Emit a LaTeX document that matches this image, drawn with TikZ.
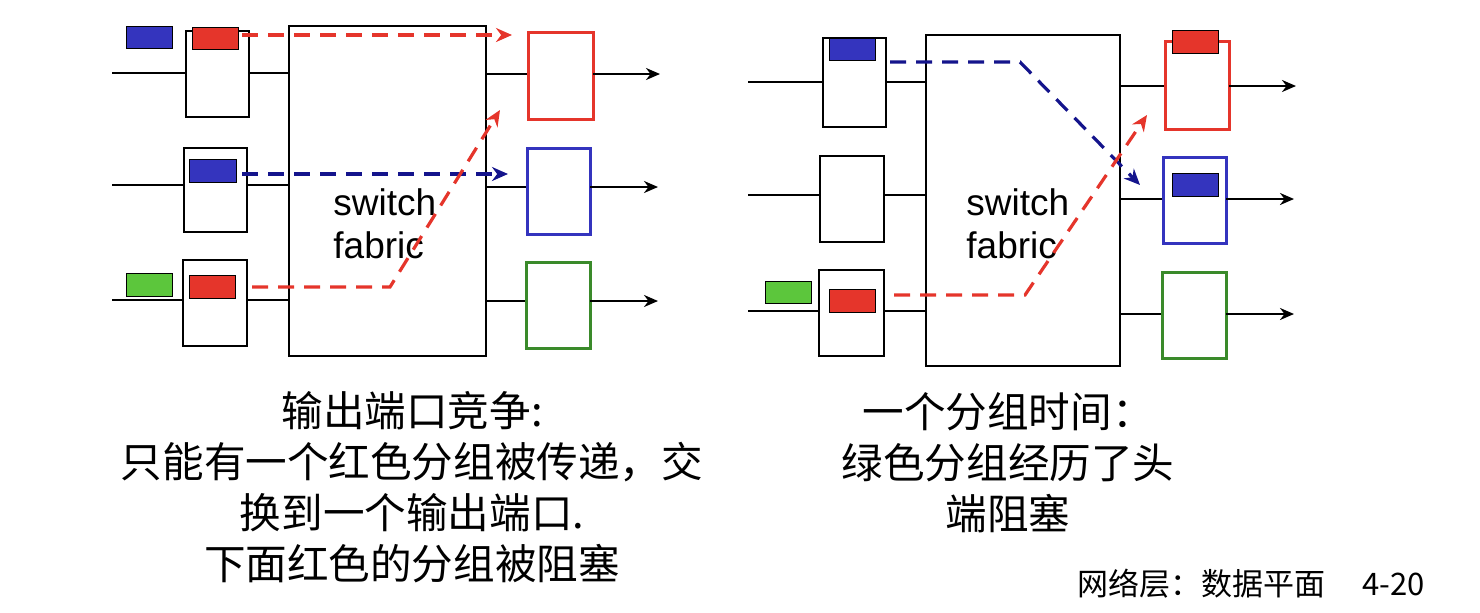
\documentclass[tikz,border=0pt]{standalone}
\usepackage{fontspec}
\setmainfont{Liberation Sans}
\newfontfamily\cjk{Noto Sans CJK SC}
\usetikzlibrary{arrows.meta}
\definecolor{pred}{HTML}{E5352B}
\definecolor{pblue}{HTML}{3434BE}
\definecolor{dblue}{HTML}{14148C}
\definecolor{pgreen}{HTML}{5CC63C}
\definecolor{bgreen}{HTML}{3A8A2A}
\begin{document}
\begin{tikzpicture}[x=0.5pt,y=-0.5pt,
  inbox/.style={draw,line width=0.6pt,fill=white},
  outbox/.style={draw,line width=1.5pt},
  pkt/.style={draw,line width=0.5pt},
  portln/.style={line width=1.3pt},
  outarr/.style={line width=1.3pt,-{Stealth[length=7pt,width=6pt]}},
  dsh/.style={line width=1.6pt,dash pattern=on 8pt off 5pt,-{Stealth[length=8pt,width=7pt]}},
  captxt/.style={font=\cjk\fontsize{20.8}{25.5}\selectfont,align=center},
  swtxt/.style={font=\fontsize{18.5}{21.5}\selectfont,align=left,anchor=north west,inner sep=0}]
\useasboundingbox (0,0) rectangle (1480,612);
% ---------- left ----------
\foreach \ya/\yb/\xa/\xb/\y in {31/117/186/249/73,148/232/184/247/185,260/346/183/247/300}{
  \draw[portln] (112,\y) -- (\xa,\y);
  \draw[portln] (\xb,\y) -- (289,\y);
  \draw[inbox] (\xa,\ya) rectangle (\xb,\yb);
}
\draw[line width=0.7pt] (289,26) rectangle (486,356);
\node[swtxt] (swL) at (333,188) {switch\\fabric};
\draw[portln] (486,74) -- (528,74);
\draw[portln] (486,187) -- (527,187);
\draw[portln] (486,301) -- (526,301);
\draw[outbox,pred] (528,32) rectangle (593,119);
\draw[outbox,pblue] (527,148) rectangle (590,234);
\draw[outbox,bgreen] (526,262) rectangle (590,348);
\draw[outarr] (593,74) -- (660,74);
\draw[outarr] (590,187) -- (658,187);
\draw[outarr] (590,301) -- (658,301);
\draw[pkt,fill=pblue] (126,26) rectangle (172,48);
\draw[pkt,fill=pred] (192,27) rectangle (238,49);
\draw[pkt,fill=pblue] (189,159) rectangle (236,182);
\draw[pkt,fill=pgreen] (126,273) rectangle (172,296);
\draw[pkt,fill=pred] (189,275) rectangle (235,298);
\draw[dsh,pred] (242,35) -- (512,35);
\draw[dsh,dblue] (242,174) -- (508,174);
\draw[dsh,pred] (252,287) -- (390,287) -- (500,110);
\node[captxt] (capL) at (412,487) {输出端口竞争:\\只能有一个红色分组被传递，交\\换到一个输出端口.\\下面红色的分组被阻塞};
% ---------- right ----------
\foreach \ya/\yb/\xa/\xb/\y in {38/127/823/886/82,156/242/820/884/195,270/356/819/884/311}{
  \draw[portln] (748,\y) -- (\xa,\y);
  \draw[portln] (\xb,\y) -- (926,\y);
  \draw[inbox] (\xa,\ya) rectangle (\xb,\yb);
}
\draw[line width=0.7pt] (926,35) rectangle (1120,366);
\node[swtxt] (swR) at (966,188) {switch\\fabric};
\draw[portln] (1120,86) -- (1165,86);
\draw[portln] (1120,199) -- (1163,199);
\draw[portln] (1120,314) -- (1162,314);
\draw[outbox,pred] (1165,41) rectangle (1229,129);
\draw[outbox,pblue] (1163,157) rectangle (1226,243);
\draw[outbox,bgreen] (1162,272) rectangle (1226,358);
\draw[outarr] (1229,86) -- (1296,86);
\draw[outarr] (1226,199) -- (1294,199);
\draw[outarr] (1226,314) -- (1294,314);
\draw[pkt,fill=pblue] (829,38) rectangle (875,60);
\draw[pkt,fill=pred] (1172,30) rectangle (1218,53);
\draw[pkt,fill=pblue] (1172,173) rectangle (1218,196);
\draw[pkt,fill=pgreen] (765,281) rectangle (811,303);
\draw[pkt,fill=pred] (829,289) rectangle (875,312);
\draw[dsh,dblue] (890,62) -- (1020,62) -- (1140,185);
\draw[dsh,pred] (894,295) -- (1025,295) -- (1147,115);
\node[captxt] (capR) at (1008,463) {一个分组时间：\\绿色分组经历了头\\端阻塞};
\node[font=\cjk\fontsize{15.5}{17}\selectfont,anchor=east] (foot) at (1432,584) {网络层：数据平面\hspace{1.2em}4-20};
\end{tikzpicture}
\end{document}
